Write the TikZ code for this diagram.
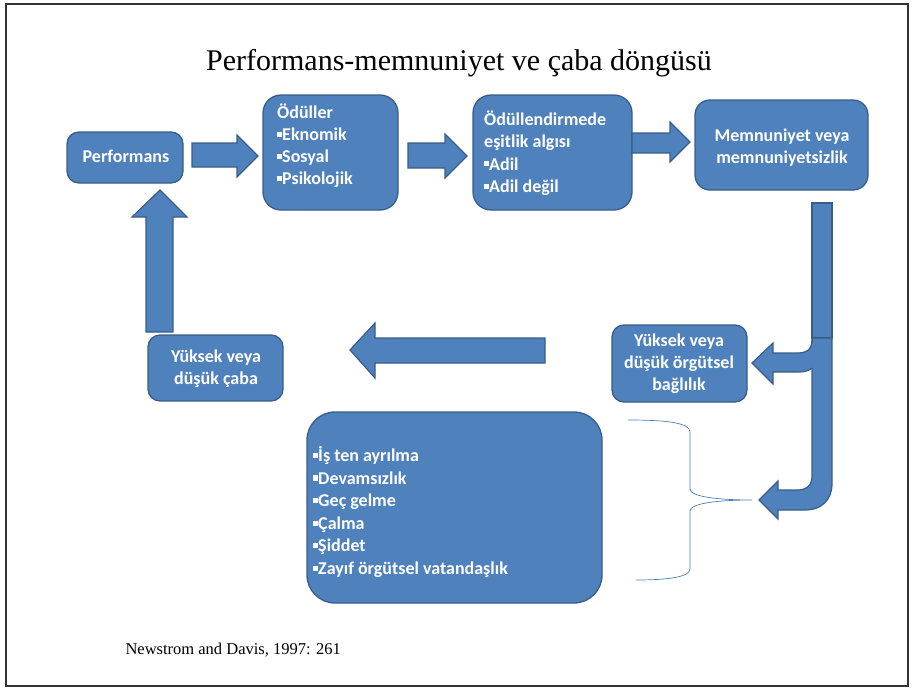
\documentclass[tikz,border=0pt]{standalone}
\usepackage{fontspec}
\setmainfont{Liberation Serif}
\newfontfamily\boxfont{Carlito}
\definecolor{boxblue}{HTML}{4F81BD}
\definecolor{boxedge}{HTML}{385D8A}
\definecolor{braceblue}{HTML}{4A7EBB}
\newcommand\bul{\rule[0.2em]{0.28em}{0.28em}}
\begin{document}
\begin{tikzpicture}[x=1pt,y=-1pt,
  box/.style={draw=boxedge,fill=boxblue,line width=1.3pt,rounded corners=12pt,inner sep=0pt},
  blk/.style={draw=boxedge,fill=boxblue,line width=1.2pt,line join=miter},
  txt/.style={text=white,font=\boxfont\bfseries\fontsize{18}{22}\selectfont,inner sep=0pt},
  brace/.style={draw=braceblue,line width=0.7pt}]
\useasboundingbox (0,0) rectangle (914,691);
\draw[line width=1.4pt,black!80] (6,4) rectangle (908,686);
% title and source
\node[font=\fontsize{30}{35}\selectfont] (title) at (459,63) {Performans-memnuniyet ve çaba döngüsü};
\node[font=\fontsize{16.5}{20}\selectfont,anchor=west] (src) at (122,650) {Newstrom and Davis, 1997: 261};
% boxes
\node[box,minimum width=116pt,minimum height=51pt] (perf) at (125,157.5) {};
\node[txt] (perft) at (126,156) {Performans};
\node[box,rounded corners=18pt,minimum width=135pt,minimum height=115pt] (odul) at (330.5,152.5) {};
\node[txt,anchor=west,align=left] (odult) at (277,146) {Ödüller\\\bul Eknomik\\\bul Sosyal\\\bul Psikolojik};
\node[box,rounded corners=18pt,minimum width=159pt,minimum height=115pt] (esit) at (552.5,152.5) {};
\node[txt,anchor=west,align=left,font=\boxfont\bfseries\fontsize{18}{22.5}\selectfont] (esitt) at (484,153) {Ödüllendirmede\\eşitlik algısı\\\bul Adil\\\bul Adil değil};
\node[box,rounded corners=15pt,minimum width=173pt,minimum height=90pt] (memn) at (781.5,145) {};
\node[txt,align=center] (memnt) at (782,148) {Memnuniyet veya\\memnuniyetsizlik};
\node[box,minimum width=135pt,minimum height=77pt] (bagl) at (679.5,363.5) {};
\node[txt,align=center] (baglt) at (679,364) {Yüksek veya\\düşük örgütsel\\bağlılık};
\node[box,minimum width=135pt,minimum height=66pt] (caba) at (215.5,368) {};
\node[txt,align=center] (cabat) at (216,369) {Yüksek veya\\düşük çaba};
\node[box,rounded corners=28pt,minimum width=295pt,minimum height=191pt] (sonuc) at (454.5,507.5) {};
\node[txt,anchor=west,align=left,font=\boxfont\bfseries\fontsize{18}{22.6}\selectfont] (sonuct) at (313,512) {\bul İş ten ayrılma\\\bul Devamsızlık\\\bul Geç gelme\\\bul Çalma\\\bul Şiddet\\\bul Zayıf örgütsel vatandaşlık};
% block arrows
\draw[blk] (192,143) -- (237,143) -- (237,135) -- (258,156) -- (237,177) -- (237,167) -- (192,167) -- cycle;
\draw[blk] (408,143) -- (445,143) -- (445,134) -- (467,156) -- (445,178) -- (445,168) -- (408,168) -- cycle;
\draw[blk] (632,133) -- (670,133) -- (670,122) -- (690,142) -- (670,162) -- (670,153) -- (632,153) -- cycle;
\draw[blk] (146,332) -- (146,217) -- (132,217) -- (160,190) -- (187,217) -- (173,217) -- (173,332) -- cycle;
\draw[blk] (545,338) -- (375,338) -- (375,323) -- (350,350) -- (375,378) -- (375,363) -- (545,363) -- cycle;
% right bar and bent arrows
\draw[blk] (812,203) rectangle (832,338);
\draw[blk] (812,338) -- (812,476) .. controls (812,486) and (806,490) .. (797,490) -- (778,490) -- (778,481) -- (759,500) -- (778,519) -- (778,510) -- (806,510) .. controls (821,510) and (832,500) .. (832,484) -- (832,338) -- cycle;
\fill[boxblue] (813,340) .. controls (812,350) and (806,353) .. (797,353) -- (773,353) -- (773,343) -- (752,363) -- (773,384) -- (773,372) -- (798,372) .. controls (806,372) and (810,370) .. (813,368) -- cycle;
\draw[boxedge,line width=1.2pt,line join=miter] (812,340) .. controls (812,350) and (806,353) .. (797,353) -- (773,353) -- (773,343) -- (752,363) -- (773,384) -- (773,372) -- (798,372) .. controls (806,372) and (810,370) .. (812,368);
% brace
\draw[brace] (628,420) .. controls (668,420) and (690,423) .. (690,432) -- (690,489) .. controls (690,497) and (720,500) .. (752,500) .. controls (720,500) and (690,503) .. (690,511) -- (690,569) .. controls (690,577) and (668,580) .. (636,580);
\end{tikzpicture}
\end{document}
